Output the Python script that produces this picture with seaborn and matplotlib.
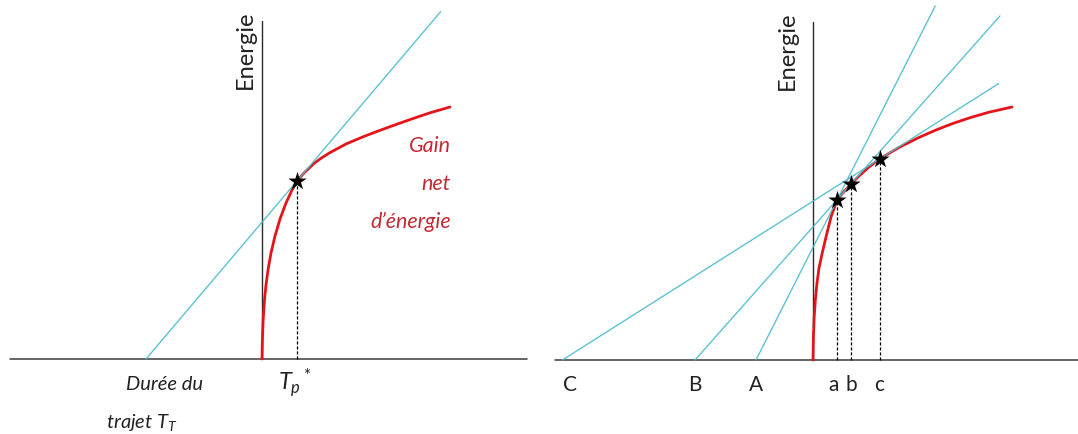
import pandas as pd
import seaborn as sns
from matplotlib import pyplot as plt

# marginal value theorem sketch (1 unit ~ 20 px)

# left panel: net energy gain vs residence time in the patch
gain_t_left = [0, 0.02, 0.06, 0.12, 0.2, 0.3, 0.45, 0.65, 0.9, 1.2, 1.5, 1.75,
               2.1, 2.6, 3.0, 3.4, 4.2, 5.1, 6.0, 6.8, 7.6, 8.4, 9.4]
gain_e_left = [0, 1.0, 2.0, 2.9, 3.7, 4.45, 5.3, 6.15, 7.0, 7.8, 8.45, 8.9,
               9.3, 9.78, 10.07, 10.32, 10.75, 11.13, 11.47, 11.76, 12.04, 12.31, 12.6]
travel_left = -5.8        # intercept of the tangent (travel time)
star_left = (1.75, 8.9)   # T_p*
tangent_end_left = 8.93

# right panel: same curve, three travel times A, B, C
gain_t_right = [0, 0.02, 0.06, 0.12, 0.2, 0.3, 0.45, 0.65, 0.9, 1.2, 1.55, 1.9,
                2.3, 2.8, 3.33, 4.3, 5.3, 6.2, 7.0, 7.9, 8.8, 9.95]
gain_e_right = [0, 1.1, 2.15, 3.05, 3.85, 4.6, 5.3, 6.15, 7.15, 8.0, 8.42, 8.8,
                9.2, 9.65, 10.05, 10.63, 11.13, 11.52, 11.83, 12.13, 12.39, 12.65]
travel_names = ["A", "B", "C"]
travel_right = [-2.85, -5.9, -12.53]
opt_names = ["a", "b", "c"]
opt_t = [1.2, 1.9, 3.33]
opt_e = [8.0, 8.8, 10.05]
tangent_end_right = [6.11, 9.35, 9.28]

RED = "#e3151b"
RED_TXT = "#c42a33"
BLUE = "#4cbccd"
INK = "#222222"

sns.set_style("white")
plt.rcParams["font.family"] = ["Lato", "DejaVu Sans"]
plt.rcParams["mathtext.fontset"] = "custom"
plt.rcParams["mathtext.rm"] = "Lato"
plt.rcParams["mathtext.it"] = "Lato:italic"


def tangent_frame(feet, stars_t, stars_e, ends):
    rows = []
    for i, (f, st, se, te) in enumerate(zip(feet, stars_t, stars_e, ends)):
        slope = se / (st - f)
        rows.append({"line": i, "t": f, "e": 0.0})
        rows.append({"line": i, "t": te, "e": slope * (te - f)})
    return pd.DataFrame(rows)


def draw_panel(ax, gt, ge, feet, st, se, ends, base_left, base_right, label_x):
    # hand drawn axes
    ax.plot([base_left, base_right], [0, 0], color="#3a3a3a", lw=1.1, zorder=1)
    ax.plot([0, 0], [0, 16.9], color="#2a2a2a", lw=1.0, zorder=1)
    for t, e in zip(st, se):
        ax.plot([t, t], [0, e], color="black", lw=0.9, dashes=(2.5, 1.5), zorder=2)
    sns.lineplot(x=gt, y=ge, ax=ax, color=RED, lw=2.0, sort=False,
                 estimator=None, zorder=3)
    lines = tangent_frame(feet, st, se, ends)
    sns.lineplot(data=lines, x="t", y="e", units="line", estimator=None,
                 ax=ax, color=BLUE, lw=1.0, alpha=0.9, sort=False, zorder=4)
    sns.scatterplot(x=st, y=se, ax=ax, marker="*", s=190, color="black",
                    linewidth=0, zorder=5)
    ax.text(label_x, 15.5, "Energie", rotation=90,
            ha="center", va="center", fontsize=17, color=INK)


fig = plt.figure(figsize=(10.78, 4.35), dpi=100)
ax1 = fig.add_axes([0, 0, 0.5, 1])
ax2 = fig.add_axes([0.5, 0, 0.5, 1])

draw_panel(ax1, gain_t_left, gain_e_left, [travel_left], [star_left[0]],
           [star_left[1]], [tangent_end_left], -12.6, 13.25, -0.85)
ax1.set_xlim(-13.1, 13.85)
ax1.set_ylim(-3.75, 18)

for txt, y in zip(["Gain", "net", "d’énergie"], [10.7, 8.8, 6.9]):
    ax1.text(9.45, y, txt, ha="right", va="center", fontsize=15.5,
             style="italic", color=RED_TXT)
ax1.text(-4.85, -1.25, "Durée du", ha="center", va="center", fontsize=14.5,
         style="italic", color=INK)
ax1.text(-6.0, -3.15, r"trajet $T_T$", ha="center", va="center", fontsize=14.5,
         style="italic", color=INK)
ax1.text(star_left[0] - 0.1, -1.15, r"$T_p{}^*$", ha="center", va="center",
         fontsize=17, color=INK)

draw_panel(ax2, gain_t_right, gain_e_right, travel_right, opt_t, opt_e,
           tangent_end_right, -12.9, 13.5, -1.3)
ax2.set_xlim(-13.7, 13.25)
ax2.set_ylim(-3.7, 18.05)

for name, t in zip(travel_names, travel_right):
    ax2.text(t + (0.4 if name == "C" else 0), -1.2, name, ha="center",
             va="center", fontsize=15, color=INK)
for name, t in zip(opt_names, opt_t):
    ax2.text(t - 0.15 if name == "a" else t, -1.2, name, ha="center",
             va="center", fontsize=15, color=INK)

for ax in (ax1, ax2):
    ax.set_axis_off()
    if ax.get_legend():
        ax.get_legend().remove()

fig.savefig("out.png", dpi=100)
